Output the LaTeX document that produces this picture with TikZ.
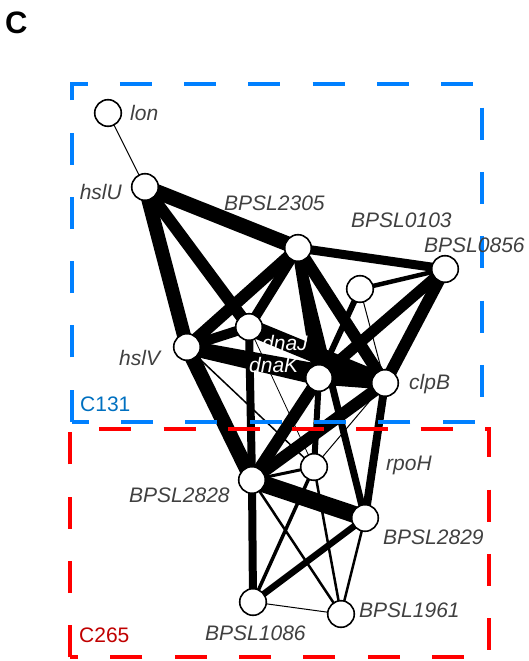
\documentclass[tikz,border=0pt]{standalone}
\usepackage{fontspec}
\setmainfont{Liberation Sans}
\definecolor{boxblue}{RGB}{0,128,255}
\definecolor{boxred}{RGB}{255,0,0}
\definecolor{cblue}{RGB}{0,112,192}
\definecolor{cred}{RGB}{192,0,0}
\definecolor{labelgray}{RGB}{64,64,64}
\pgfdeclarelayer{edgelayer}
\pgfdeclarelayer{boxlayer}
\pgfsetlayers{edgelayer,boxlayer,main}
\begin{document}
\begin{tikzpicture}[x=1pt,y=-1pt,
  gn/.style={circle,draw=black,fill=white,line width=1.6pt,minimum size=26.6pt,inner sep=0pt},
  lbl/.style={anchor=base west,inner sep=0pt,text=labelgray,font=\fontsize{21}{25}\selectfont\itshape},
  lblr/.style={lbl,anchor=base east},
  wlbl/.style={lbl,text=white},
  clbl/.style={anchor=base west,inner sep=0pt,font=\fontsize{21}{25}\selectfont},
  ew/.style={line width=#1pt,draw=black},
  boxline/.style={line width=4pt,dash pattern=on 32pt off 32.3pt,line join=miter}
]
\useasboundingbox (0,0) rectangle (528,661);

% nodes
\node[gn] (lon)   at (108,113) {};
\node[gn] (hslU)  at (145,187) {};
\node[gn] (B2305) at (298,248) {};
\node[gn] (B0856) at (445,269) {};
\node[gn] (B0103) at (360,289) {};
\node[gn] (dnaJ)  at (249,327) {};
\node[gn] (hslV)  at (187,347) {};
\node[gn] (dnaK)  at (319,378) {};
\node[gn] (clpB)  at (385,383) {};
\node[gn] (rpoH)  at (314,467) {};
\node[gn] (B2828) at (252,480) {};
\node[gn] (B2829) at (365,518) {};
\node[gn] (B1086) at (253,602) {};
\node[gn] (B1961) at (341,614) {};

% edges
\begin{pgfonlayer}{edgelayer}
\draw[ew=1]   (lon.center) -- (hslU.center);
\draw[ew=15]  (hslU.center) -- (B2305.center);
\draw[ew=14]  (hslU.center) -- (hslV.center);
\draw[ew=12]  (hslU.center) -- (dnaJ.center);
\draw[ew=12]  (B2305.center) -- (hslV.center);
\draw[ew=10]  (B2305.center) -- (dnaJ.center);
\draw[ew=9]   (B2305.center) -- (B0856.center);
\draw[ew=12]  (B2305.center) -- (dnaK.center);
\draw[ew=12]  (B2305.center) -- (clpB.center);
\draw[ew=7]   (B2305.center) -- (B2829.center);
\draw[ew=4.5] (B0856.center) -- (B0103.center);
\draw[ew=12]  (B0856.center) -- (clpB.center);
\draw[ew=11]  (B0856.center) -- (dnaK.center);
\draw[ew=1]   (B0103.center) -- (clpB.center);
\draw[ew=6]   (B0103.center) -- (dnaK.center);
\draw[ew=10]  (hslV.center) -- (dnaJ.center);
\draw[ew=15]  (hslV.center) -- (dnaK.center);
\draw[ew=14]  (hslV.center) -- (clpB.center);
\draw[ew=17]  (dnaJ.center) -- (clpB.center);
\draw[ew=13]  (dnaK.center) -- (clpB.center);
\draw[ew=15]  (hslV.center) -- (B2828.center);
\draw[ew=1.5] (hslV.center) -- (rpoH.center);
\draw[ew=8]   (dnaJ.center) -- (B2828.center);
\draw[ew=0.8] (dnaJ.center) -- (rpoH.center);
\draw[ew=12]  (dnaK.center) -- (B2828.center);
\draw[ew=12]  (clpB.center) -- (B2828.center);
\draw[ew=6]   (dnaK.center) -- (rpoH.center);
\draw[ew=1]   (clpB.center) -- (rpoH.center);
\draw[ew=8]   (clpB.center) -- (B2829.center);
\draw[ew=3]   (B2828.center) -- (rpoH.center);
\draw[ew=17]  (B2828.center) -- (B2829.center);
\draw[ew=8]   (B2828.center) -- (B1086.center);
\draw[ew=2.5] (B2828.center) -- (B1961.center);
\draw[ew=3.5] (rpoH.center) -- (B1086.center);
\draw[ew=2.5] (rpoH.center) -- (B1961.center);
\draw[ew=6.5] (B2829.center) -- (B1086.center);
\draw[ew=2.5] (B2829.center) -- (B1961.center);
\draw[ew=1]   (B1086.center) -- (B1961.center);
\end{pgfonlayer}

% cluster boxes
\begin{pgfonlayer}{boxlayer}
\draw[boxline,draw=boxblue] (71.7,421.7) -- (71.7,84) -- (482,84) -- (482,421.7) -- cycle;
\draw[boxline,draw=boxred] (70,657.3) -- (70,429.3) -- (489,429.3) -- (489,657.3) -- cycle;
\end{pgfonlayer}

% labels
\node[anchor=base west,inner sep=0pt,font=\fontsize{31}{34}\selectfont\bfseries] (panel) at (5,33.3) {C};
\node[lbl]  (tlon)   at (130,120) {lon};
\node[lblr] (thslU)  at (122,199.3) {hslU};
\node[lbl]  (t2305)  at (224,210.7) {BPSL2305};
\node[lbl]  (t0103)  at (351,227.3) {BPSL0103};
\node[lbl]  (t0856)  at (424,252.3) {BPSL0856};
\node[lbl]  (thslV)  at (119,365.7) {hslV};
\node[wlbl] (tdnaJ)  at (262,350) {dnaJ};
\node[wlbl] (tdnaK)  at (249,372.7) {dnaK};
\node[lbl]  (tclpB)  at (409,389.3) {clpB};
\node[clbl,text=cblue] (tc131) at (80,411.7) {C131};
\node[lbl]  (trpoH)  at (386,470.7) {rpoH};
\node[lbl]  (t2828)  at (129,502.7) {BPSL2828};
\node[lbl]  (t2829)  at (383,544) {BPSL2829};
\node[lbl]  (t1961)  at (359,617.3) {BPSL1961};
\node[lbl]  (t1086)  at (205,640) {BPSL1086};
\node[clbl,text=cred] (tc265) at (79,642.7) {C265};
\end{tikzpicture}
\end{document}
